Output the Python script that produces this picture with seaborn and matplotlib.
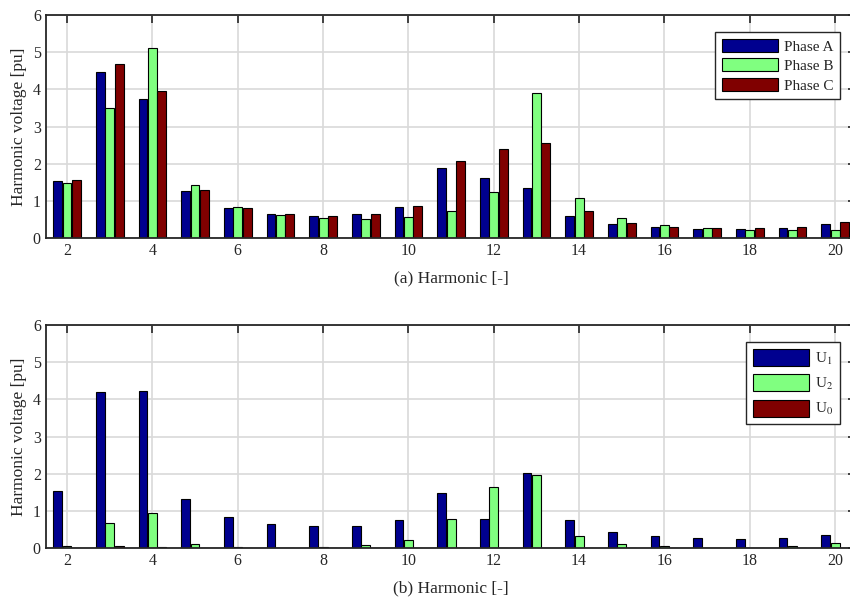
import numpy as np
import pandas as pd
import matplotlib
matplotlib.use("Agg")
import matplotlib.pyplot as plt
import seaborn as sns

harmonics = list(range(2, 21))

phase_a = [1.55, 4.46, 3.73, 1.28, 0.81, 0.64, 0.59, 0.64, 0.85, 1.88,
           1.61, 1.36, 0.60, 0.38, 0.30, 0.26, 0.26, 0.29, 0.38]
phase_b = [1.49, 3.49, 5.10, 1.42, 0.84, 0.63, 0.55, 0.53, 0.57, 0.73,
           1.24, 3.90, 1.08, 0.54, 0.36, 0.28, 0.23, 0.21, 0.22]
phase_c = [1.56, 4.68, 3.96, 1.29, 0.81, 0.64, 0.60, 0.65, 0.88, 2.08,
           2.39, 2.55, 0.73, 0.41, 0.30, 0.28, 0.27, 0.31, 0.45]

u1 = [1.54, 4.19, 4.22, 1.33, 0.83, 0.65, 0.59, 0.61, 0.77, 1.49,
      0.78, 2.01, 0.77, 0.45, 0.33, 0.28, 0.26, 0.28, 0.35]
u2 = [0.05, 0.69, 0.95, 0.11, 0.03, 0.02, 0.04, 0.08, 0.21, 0.79,
      1.65, 1.97, 0.33, 0.11, 0.05, 0.02, 0.02, 0.05, 0.13]
u0 = [0.02, 0.07, 0.04, 0.02, 0.01, 0.01, 0.01, 0.01, 0.01, 0.01,
      0.01, 0.01, 0.01, 0.01, 0.01, 0.01, 0.01, 0.01, 0.01]

phase_labels = ["Phase A", "Phase B", "Phase C"]
seq_labels = ["U$_1$", "U$_2$", "U$_0$"]
xtick_labels = [str(h) for h in range(2, 21, 2)]
colors = ["#00008F", "#80FF80", "#800000"]

sns.set_theme(style="white")
plt.rcParams["font.family"] = ["Liberation Serif", "DejaVu Serif"]
plt.rcParams["mathtext.fontset"] = "stix"
TXT = "#262626"

def long_df(series, labels):
    rows = []
    for lab, vals in zip(labels, series):
        for h, v in zip(harmonics, vals):
            rows.append({"h": h, "v": v, "s": lab})
    return pd.DataFrame(rows)

fig = plt.figure(figsize=(8.5, 5.99), dpi=100)
ax_w = (856.4 - 45.7) / 850
ax_h = 223.3 / 599
ax1 = fig.add_axes([45.7 / 850, 1 - 238.3 / 599, ax_w, ax_h])
ax2 = fig.add_axes([45.7 / 850, 1 - 548.3 / 599, ax_w, ax_h])

panels = [
    (ax1, long_df([phase_a, phase_b, phase_c], phase_labels), phase_labels,
     "(a) Harmonic [-]", (0.9882, 1 - 32 / 599), 0.95, 0.3, 3.7),
    (ax2, long_df([u1, u2, u0], seq_labels), seq_labels,
     "(b) Harmonic [-]", (0.9882, 1 - 342 / 599), 1.35, 0.5, 3.7),
]

for ax, df, labels, xlab, anchor, hh, ls, hl in panels:
    sns.barplot(data=df, x="h", y="v", hue="s", order=harmonics,
                hue_order=labels, palette=colors, width=0.66, gap=0.05,
                edgecolor="black", linewidth=0.8, saturation=1,
                ax=ax, legend=True)
    ax.set_xlim(-0.5, 18.5)
    ax.set_ylim(0, 6)
    ax.set_xticks(list(range(0, 19, 2)))
    ax.set_xticklabels(xtick_labels)
    ax.set_yticks(range(0, 7))
    ax.set_axisbelow(True)
    ax.grid(True, color="#d9d9d9", linewidth=1.2)
    ax.tick_params(direction="in", length=6, width=1.2, top=True, right=True,
                   labelsize=11.5, colors=TXT, pad=3.5)
    for sp in ax.spines.values():
        sp.set_color(TXT)
        sp.set_linewidth(1.3)
    ax.set_xlabel(xlab, fontsize=12.5, color=TXT, labelpad=8)
    ax.set_ylabel("Harmonic voltage [pu]", fontsize=12.5, color=TXT, labelpad=4)
    handles, lbls = ax.get_legend_handles_labels()
    leg = ax.legend(handles, lbls, loc="upper right", bbox_to_anchor=anchor,
                    bbox_transform=fig.transFigure, fontsize=11, frameon=True,
                    fancybox=False, edgecolor=TXT, framealpha=1,
                    handlelength=hl, handleheight=hh, handletextpad=0.35,
                    borderpad=0.45, labelspacing=ls, borderaxespad=0)
    leg.get_frame().set_linewidth(1.0)
    for t in leg.get_texts():
        t.set_color(TXT)

fig.savefig("out.png", dpi=100)
